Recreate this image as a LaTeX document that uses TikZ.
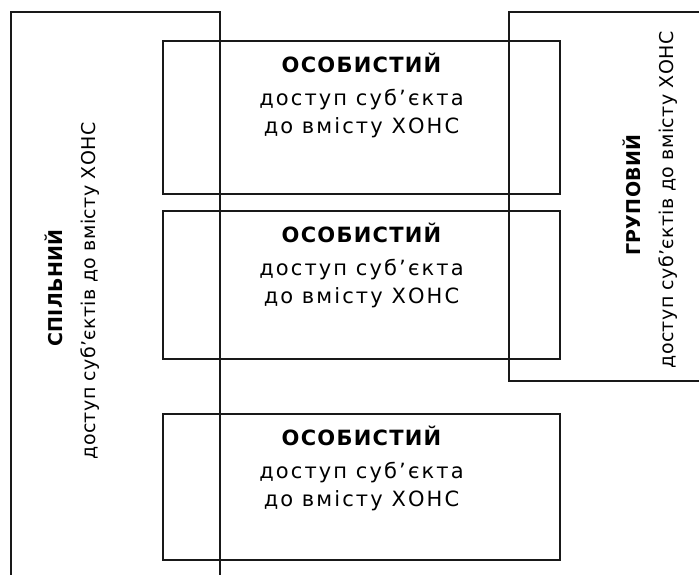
\documentclass[tikz,border=0pt]{standalone}
\usepackage{fontspec}
\setmainfont{DejaVu Sans}
\newfontfamily\boxfont[LetterSpace=10]{DejaVu Sans}
\newfontfamily\titlefont[LetterSpace=6]{DejaVu Sans}
\newfontfamily\sidefont[LetterSpace=2]{DejaVu Sans}
\begin{document}
\begin{tikzpicture}[x=1pt,y=-1pt,
  frame/.style={draw=black!90,line width=1.4pt,inner sep=0pt},
  boxtitle/.style={anchor=base,inner sep=0pt,font=\titlefont\fontsize{21}{21}\selectfont\bfseries},
  boxline/.style={anchor=base,inner sep=0pt,font=\boxfont\fontsize{21}{21}\selectfont},
  sidetitle/.style={anchor=base,rotate=90,inner sep=0pt,font=\sidefont\fontsize{19}{19}\selectfont\bfseries},
  sideline/.style={anchor=base,rotate=90,inner sep=0pt,font=\sidefont\fontsize{19}{19}\selectfont}]
\useasboundingbox (0,0) rectangle (699,574);
\begin{scope}
\clip (0,0) rectangle (699,574);
% shared access: open below the page edge
\node[frame,minimum width=209pt,minimum height=600pt] (shared) at (115.5,312) {};
% group access: runs past the right edge
\node[frame,minimum width=220pt,minimum height=369pt] (group) at (619,196.5) {};
\end{scope}
% personal access boxes
\node[frame,minimum width=397pt,minimum height=153pt] (p1) at (361.5,117.5) {};
\node[frame,minimum width=397pt,minimum height=148pt] (p2) at (361.5,285) {};
\node[frame,minimum width=397pt,minimum height=146pt] (p3) at (361.5,487) {};
\foreach \b/\t in {p1/41,p2/211,p3/414}{
  \node[boxtitle] (\b-a) at (361.5,\t+31) {ОСОБИСТИЙ};
  \node[boxline] (\b-b) at (361.5,\t+64) {доступ суб’єкта};
  \node[boxline] (\b-c) at (361.5,\t+92) {до вмісту ХОНС};
}
% side labels
\node[sidetitle] (shared-a) at (62,288) {СПІЛЬНИЙ};
\node[sideline] (shared-b) at (95,291) {доступ суб’єктів до вмісту ХОНС};
\node[sidetitle] (group-a) at (640,195) {ГРУПОВИЙ};
\node[sideline] (group-b) at (673,200) {доступ суб’єктів до вмісту ХОНС};
\end{tikzpicture}
\end{document}
